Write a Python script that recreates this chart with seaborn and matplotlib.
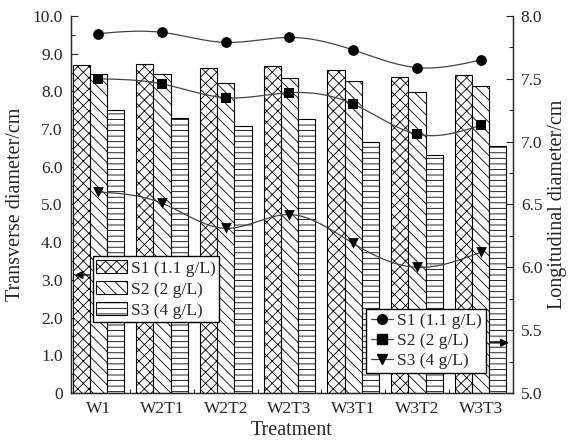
import numpy as np
import pandas as pd
import matplotlib
matplotlib.use('Agg')
import matplotlib.pyplot as plt
import seaborn as sns
from matplotlib.patches import Patch
from matplotlib.lines import Line2D
from matplotlib.ticker import MultipleLocator, FixedLocator

# Treatments on the x axis
treatments = ['W1', 'W2T1', 'W2T2', 'W2T3', 'W3T1', 'W3T2', 'W3T3']
series = ['S1 (1.1 g/L)', 'S2 (2 g/L)', 'S3 (4 g/L)']

# Transverse diameter (bars, left axis, cm)
trans_s1 = [8.69, 8.73, 8.61, 8.67, 8.56, 8.38, 8.44]
trans_s2 = [8.47, 8.46, 8.23, 8.36, 8.29, 7.99, 8.14]
trans_s3 = [7.52, 7.30, 7.09, 7.27, 6.66, 6.32, 6.56]

# Longitudinal diameter (lines, right axis, cm)
long_s1 = [7.86, 7.87, 7.79, 7.83, 7.73, 7.59, 7.65]
long_s2 = [7.50, 7.46, 7.35, 7.39, 7.30, 7.06, 7.13]
long_s3 = [6.60, 6.51, 6.31, 6.42, 6.19, 6.00, 6.12]

hatches = ['xxx', '\\\\\\', '---']
markers = ['o', 's', 'v']


def natural_spline(x, y, n=300):
    """Natural cubic spline through the points, only used to draw a smooth connecting line."""
    x = np.asarray(x, float)
    y = np.asarray(y, float)
    k = len(x)
    h = np.diff(x)
    A = np.zeros((k, k))
    b = np.zeros(k)
    A[0, 0] = A[-1, -1] = 1
    for i in range(1, k - 1):
        A[i, i - 1] = h[i - 1]
        A[i, i] = 2 * (h[i - 1] + h[i])
        A[i, i + 1] = h[i]
        b[i] = 3 * ((y[i + 1] - y[i]) / h[i] - (y[i] - y[i - 1]) / h[i - 1])
    c = np.linalg.solve(A, b)
    xs = np.linspace(x[0], x[-1], n)
    idx = np.clip(np.searchsorted(x, xs) - 1, 0, k - 2)
    dx = xs - x[idx]
    bb = (y[idx + 1] - y[idx]) / h[idx] - h[idx] * (2 * c[idx] + c[idx + 1]) / 3
    dd = (c[idx + 1] - c[idx]) / (3 * h[idx])
    ys = y[idx] + bb * dx + c[idx] * dx ** 2 + dd * dx ** 3
    return xs, ys


sns.set_style('ticks')
plt.rcParams['font.family'] = ['Liberation Serif', 'DejaVu Serif']
plt.rcParams['hatch.linewidth'] = 0.6
plt.rcParams['hatch.color'] = 'black'

tick_fs = 12.5
label_fs = 14.5
legend_fs = 12.5

df = pd.DataFrame({
    'Treatment': treatments * 3,
    'Series': [s for s in series for _ in treatments],
    'Value': trans_s1 + trans_s2 + trans_s3,
})

fig = plt.figure(figsize=(5.72, 4.46), dpi=100)
ax = fig.add_axes([0.124, 0.119, 0.772, 0.845])

sns.barplot(data=df, x='Treatment', y='Value', hue='Series', order=treatments,
            hue_order=series, palette=['white'] * 3, edgecolor='black',
            linewidth=0.8, width=0.81, saturation=1, legend=False, ax=ax)
for cont, h in zip(ax.containers, hatches):
    for p in cont:
        p.set_hatch(h)
        p.set_facecolor('white')

ax.set_xlim(-0.43, 6.5)
ax.set_ylim(0, 10)
ax.set_yticks(np.arange(0, 10.01, 1.0))
ax.set_yticklabels(['0'] + [f'{v:.1f}' for v in np.arange(1, 10.01, 1.0)])
ax.yaxis.set_minor_locator(MultipleLocator(0.5))
ax.xaxis.set_minor_locator(FixedLocator(np.arange(0.5, 6, 1.0)))
ax.tick_params(axis='x', which='major', length=0, pad=6, labelsize=tick_fs)
ax.tick_params(axis='x', which='minor', direction='in', length=3, width=0.8)
ax.tick_params(axis='y', which='major', direction='in', length=5, width=0.8,
               labelsize=tick_fs, pad=6)
ax.tick_params(axis='y', which='minor', direction='in', length=3, width=0.8)
ax.set_xlabel('Treatment', fontsize=label_fs, labelpad=3)
ax.set_ylabel('Transverse diameter/cm', fontsize=label_fs, labelpad=5)
for s in ['left', 'bottom']:
    ax.spines[s].set_linewidth(1.0)
ax.spines['top'].set_visible(False)

ax2 = ax.twinx()
ax2.set_ylim(5.0, 8.0)
xpos = np.arange(len(treatments))
for vals, m in zip([long_s1, long_s2, long_s3], markers):
    xs, ys = natural_spline(xpos, vals)
    ax2.plot(xs, ys, color='#444444', lw=0.9)
    sns.scatterplot(x=xpos, y=vals, marker=m, color='black', s=60,
                    edgecolor='black', linewidth=0, ax=ax2, zorder=5)
ax2.set_yticks(np.arange(5.0, 8.01, 0.5))
ax2.set_yticklabels([f'{v:.1f}' for v in np.arange(5.0, 8.01, 0.5)])
ax2.yaxis.set_minor_locator(MultipleLocator(0.25))
ax2.tick_params(axis='y', which='major', direction='in', length=5, width=0.8,
                labelsize=tick_fs, pad=6)
ax2.tick_params(axis='y', which='minor', direction='in', length=3, width=0.8)
ax2.set_ylabel('Longitudinal diameter/cm', fontsize=label_fs, labelpad=4)
ax2.spines['top'].set_visible(False)
ax2.spines['right'].set_linewidth(1.0)
ax2.set_xlim(-0.43, 6.5)

bar_handles = [Patch(facecolor='white', edgecolor='black', hatch=h, lw=0.8) for h in hatches]
leg1 = ax2.legend(bar_handles, series, loc='upper left', bbox_to_anchor=(0.049, 0.362),
                  frameon=True, fancybox=False, edgecolor='black', framealpha=1,
                  fontsize=legend_fs, handlelength=1.8, handleheight=0.8, handletextpad=0.2,
                  borderpad=0.2, labelspacing=0.25, borderaxespad=0)
leg1.get_frame().set_linewidth(1.0)
ax2.add_artist(leg1)

line_handles = [Line2D([0], [0], color='#444444', lw=0.9, marker=m, markersize=7,
                       markerfacecolor='black', markeredgecolor='black') for m in markers]
leg2 = ax2.legend(line_handles, series, loc='upper left', bbox_to_anchor=(0.669, 0.223),
                  frameon=True, fancybox=False, edgecolor='black', framealpha=1,
                  fontsize=legend_fs, handlelength=1.3, handletextpad=0.2,
                  borderpad=0.25, labelspacing=0.2, borderaxespad=0)
leg2.get_frame().set_linewidth(1.0)

# arrows pointing from legends to their axes
ax2.annotate('', xy=(0.002, 0.313), xycoords='axes fraction', xytext=(0.049, 0.313),
             arrowprops=dict(arrowstyle='-|>', color='black', lw=1, mutation_scale=12))
ax2.annotate('', xy=(0.998, 0.133), xycoords='axes fraction', xytext=(0.944, 0.133),
             arrowprops=dict(arrowstyle='-|>', color='black', lw=1, mutation_scale=12))

fig.savefig('out.png', dpi=100)
